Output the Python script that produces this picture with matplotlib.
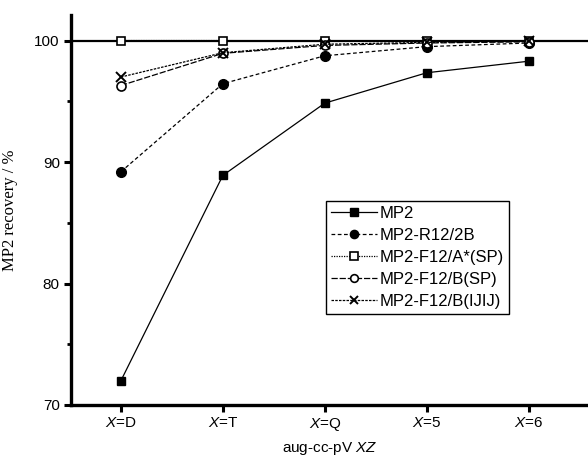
import numpy as np
import matplotlib
matplotlib.use('Agg')
import matplotlib.pyplot as plt
from matplotlib.ticker import MultipleLocator

plt.rcParams['font.family'] = 'Liberation Sans'
plt.rcParams['mathtext.fontset'] = 'custom'
plt.rcParams['mathtext.rm'] = 'Liberation Sans'
plt.rcParams['mathtext.it'] = 'Liberation Sans:italic'

# data
basis = ['D', 'T', 'Q', '5', '6']
mp2 = [72.0, 88.9, 94.85, 97.35, 98.3]
r12_2b = [89.2, 96.45, 98.75, 99.5, 99.8]
f12_a_sp = [100.0, 100.0, 99.95, 99.95, 99.95]
f12_b_sp = [96.3, 98.95, 99.6, 99.8, 99.9]
f12_b_ijij = [97.0, 99.0, 99.7, 99.85, 99.95]

tick_labels = [r'$\mathit{X}$=' + b for b in basis]
x = np.arange(len(basis))

fig = plt.figure(figsize=(5.88, 4.62), dpi=100)
ax = fig.add_axes([0.1207, 0.1234, 0.879, 0.844])

ax.axhline(100, color='black', lw=1.6, zorder=1)

ax.plot(x, mp2, color='black', lw=0.9, ls='-', marker='s', ms=6,
        mfc='black', mec='black', label='MP2', zorder=3)
ax.plot(x, r12_2b, color='black', lw=0.9, ls=(0, (3, 2)), marker='o', ms=7,
        mfc='black', mec='black', label='MP2-R12/2B', zorder=3)
ax.plot(x, f12_a_sp, color='black', lw=0.9, ls=(0, (1, 1)), marker='s', ms=6,
        mfc='white', mec='black', mew=1.2, label='MP2-F12/A*(SP)', zorder=4)
ax.plot(x, f12_b_sp, color='black', lw=0.9, ls=(0, (5, 1.5)), marker='o', ms=6.5,
        mfc='white', mec='black', mew=1.2, label='MP2-F12/B(SP)', zorder=4)
ax.plot(x, f12_b_ijij, color='black', lw=0.9, ls=(0, (2, 1)), marker='x', ms=7,
        mec='black', mew=1.4, label='MP2-F12/B(IJIJ)', zorder=4)

ax.set_xlim(-0.49, 4.58)
ax.set_ylim(70, 102.1)
ax.set_xticks(x)
ax.set_xticklabels(tick_labels, fontsize=11)
ax.yaxis.set_major_locator(MultipleLocator(10))
ax.yaxis.set_minor_locator(MultipleLocator(5))

for s in ['top', 'right']:
    ax.spines[s].set_visible(False)
for s in ['left', 'bottom']:
    ax.spines[s].set_linewidth(2.4)

ax.tick_params(axis='both', which='major', direction='out', length=5, width=2.2,
               labelsize=11, pad=3)
ax.tick_params(axis='y', which='minor', direction='out', length=3, width=2)

ax.set_xlabel(r'aug-cc-pV $\mathit{XZ}$', fontsize=11, labelpad=5)
ax.set_ylabel('MP2 recovery / %', fontsize=12, family='Liberation Serif', labelpad=12)

leg = ax.legend(loc='lower left', bbox_to_anchor=(0.493, 0.233), fontsize=12,
                frameon=True, fancybox=False, edgecolor='black', framealpha=1,
                handlelength=2.8, handletextpad=0.15, labelspacing=0.42,
                borderpad=0.3, borderaxespad=0, markerscale=0.85)
leg.get_frame().set_linewidth(1.0)

fig.savefig('out.png', dpi=100)
